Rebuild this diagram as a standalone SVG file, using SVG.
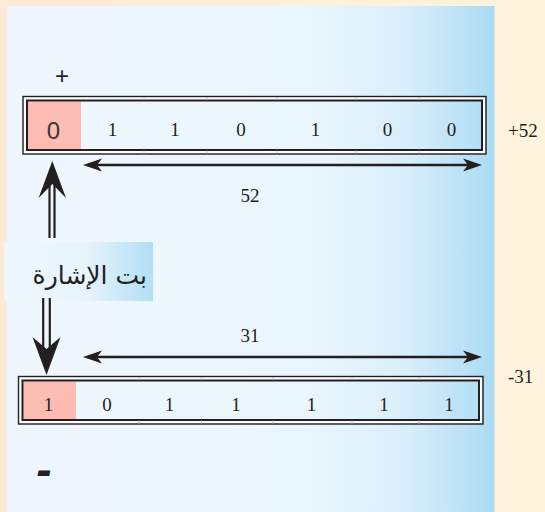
<svg xmlns="http://www.w3.org/2000/svg" width="545" height="512" viewBox="0 0 545 512">
<defs>
<linearGradient id="bg" x1="0" y1="0" x2="1" y2="0">
<stop offset="0" stop-color="#fde9d5"/>
<stop offset="1" stop-color="#fff4de"/>
</linearGradient>
<linearGradient id="panel" x1="0" y1="0" x2="1" y2="0">
<stop offset="0" stop-color="#eef7fd"/>
<stop offset="0.62" stop-color="#eaf6fd"/>
<stop offset="0.82" stop-color="#d9eefa"/>
<stop offset="1" stop-color="#aadbf4"/>
</linearGradient>
<linearGradient id="lbl" x1="0" y1="0" x2="1" y2="0">
<stop offset="0" stop-color="#eef7fd"/>
<stop offset="0.55" stop-color="#e6f4fc"/>
<stop offset="1" stop-color="#b2def5"/>
</linearGradient>
<marker id="ah" viewBox="-20 -8 20 16" refX="-10" refY="0" markerWidth="20" markerHeight="16" markerUnits="userSpaceOnUse" orient="auto-start-reverse">
<path d="M0,0 L-19,-6.5 L-14,0 L-19,6.5 Z" fill="#231f20"/>
</marker>
<style>
.dig{font-family:'Liberation Serif','Times New Roman',serif;font-size:19px;fill:#231f20;text-anchor:middle}
.lab{font-family:'Liberation Serif','Times New Roman',serif;font-size:19px;fill:#231f20}
.o{fill:none;stroke:#231f20;stroke-width:1.4}
.w{fill:none;stroke:#ffffff;stroke-width:2.6}
.i{fill:none;stroke:#231f20;stroke-width:2}
.dv{stroke:#b8bcc0;stroke-width:1}
.pink{fill:#fdbcb3}
.dim{stroke:#231f20;stroke-width:2.5;fill:none}
.sh{stroke:#231f20;stroke-width:2.2;fill:none}
.hd{fill:#231f20}
</style>
</defs>
<rect x="0" y="0" width="545" height="512" fill="url(#bg)"/>
<rect x="7" y="6" width="487.5" height="506" fill="url(#panel)"/>

<g id="top-register">
<rect class="pink" x="28" y="101.5" width="53" height="47.5"/>
<rect class="w" x="25" y="98.5" width="459" height="53.5"/>
<rect class="o" x="23" y="96.5" width="463" height="57.5"/>
<rect class="i" x="27" y="100.5" width="455" height="49.5"/>
<g class="dv">
<line x1="144" y1="97" x2="144" y2="100"/><line x1="144" y1="150.5" x2="144" y2="153.5"/>
<line x1="207" y1="97" x2="207" y2="100"/><line x1="207" y1="150.5" x2="207" y2="153.5"/>
<line x1="277" y1="97" x2="277" y2="100"/><line x1="277" y1="150.5" x2="277" y2="153.5"/>
<line x1="356" y1="97" x2="356" y2="100"/><line x1="356" y1="150.5" x2="356" y2="153.5"/>
<line x1="419" y1="97" x2="419" y2="100"/><line x1="419" y1="150.5" x2="419" y2="153.5"/>
</g>
<text x="53.5" y="139" font-family="Liberation Sans, sans-serif" font-size="24" fill="#3a3638" text-anchor="middle">0</text>
<text class="dig" x="112.5" y="136">1</text>
<text class="dig" x="175" y="136">1</text>
<text class="dig" x="241" y="136">0</text>
<text class="dig" x="315.5" y="136">1</text>
<text class="dig" x="387.5" y="136">0</text>
<text class="dig" x="451.5" y="136">0</text>
</g>
<text id="plus" x="62" y="84" font-family="Liberation Sans, sans-serif" font-size="24" fill="#231f20" text-anchor="middle">+</text>
<text id="val-pos" class="lab" x="508" y="137">+52</text>

<g id="bottom-register">
<rect class="pink" x="23.5" y="381.5" width="52.5" height="37.5"/>
<rect class="w" x="20.5" y="378.5" width="460.5" height="43.5"/>
<rect class="o" x="18.5" y="376.5" width="464.5" height="47.5"/>
<rect class="i" x="22.5" y="380.5" width="456.5" height="39.5"/>
<g class="dv">
<line x1="139" y1="377" x2="139" y2="380"/><line x1="139" y1="420.5" x2="139" y2="423.5"/>
<line x1="201.5" y1="377" x2="201.5" y2="380"/><line x1="201.5" y1="420.5" x2="201.5" y2="423.5"/>
<line x1="273" y1="377" x2="273" y2="380"/><line x1="273" y1="420.5" x2="273" y2="423.5"/>
<line x1="352" y1="377" x2="352" y2="380"/><line x1="352" y1="420.5" x2="352" y2="423.5"/>
<line x1="419" y1="377" x2="419" y2="380"/><line x1="419" y1="420.5" x2="419" y2="423.5"/>
</g>
<text class="dig" x="48.5" y="411">1</text>
<text class="dig" x="107" y="411">0</text>
<text class="dig" x="169.5" y="411">1</text>
<text class="dig" x="236" y="411">1</text>
<text class="dig" x="311.5" y="411">1</text>
<text class="dig" x="384" y="411">1</text>
<text class="dig" x="449" y="411">1</text>
</g>
<text id="val-neg" class="lab" x="508" y="383">-31</text>
<text id="minus" x="44" y="485" font-family="Liberation Sans, sans-serif" font-size="46" font-weight="bold" font-style="italic" fill="#231f20" text-anchor="middle">-</text>

<g id="sign-label">
<rect x="4" y="242" width="149" height="59" fill="url(#lbl)"/>
<text x="147" y="284" font-family="DejaVu Sans, sans-serif" font-size="25" fill="#231f20" text-anchor="end">بت الإشارة</text>
</g>

<g id="connectors">
<line class="dim" x1="93" y1="165" x2="472" y2="165" marker-start="url(#ah)" marker-end="url(#ah)"/>
<text class="dig" x="250" y="202">52</text>
<line class="dim" x1="93" y1="357" x2="472" y2="357" marker-start="url(#ah)" marker-end="url(#ah)"/>
<text class="dig" x="250" y="342">31</text>
<line class="sh" x1="49.5" y1="182" x2="49.5" y2="238"/>
<line class="sh" x1="54.5" y1="182" x2="54.5" y2="238"/>
<path class="hd" d="M52.3,161 L66,198 L52.3,184 L38.6,198 Z"/>
<line class="sh" x1="43.2" y1="298" x2="43.2" y2="352"/>
<line class="sh" x1="49.8" y1="298" x2="49.8" y2="352"/>
<path class="hd" d="M46.5,375 L60.5,337 L46.5,349 L32.5,337 Z"/>
</g>
</svg>
